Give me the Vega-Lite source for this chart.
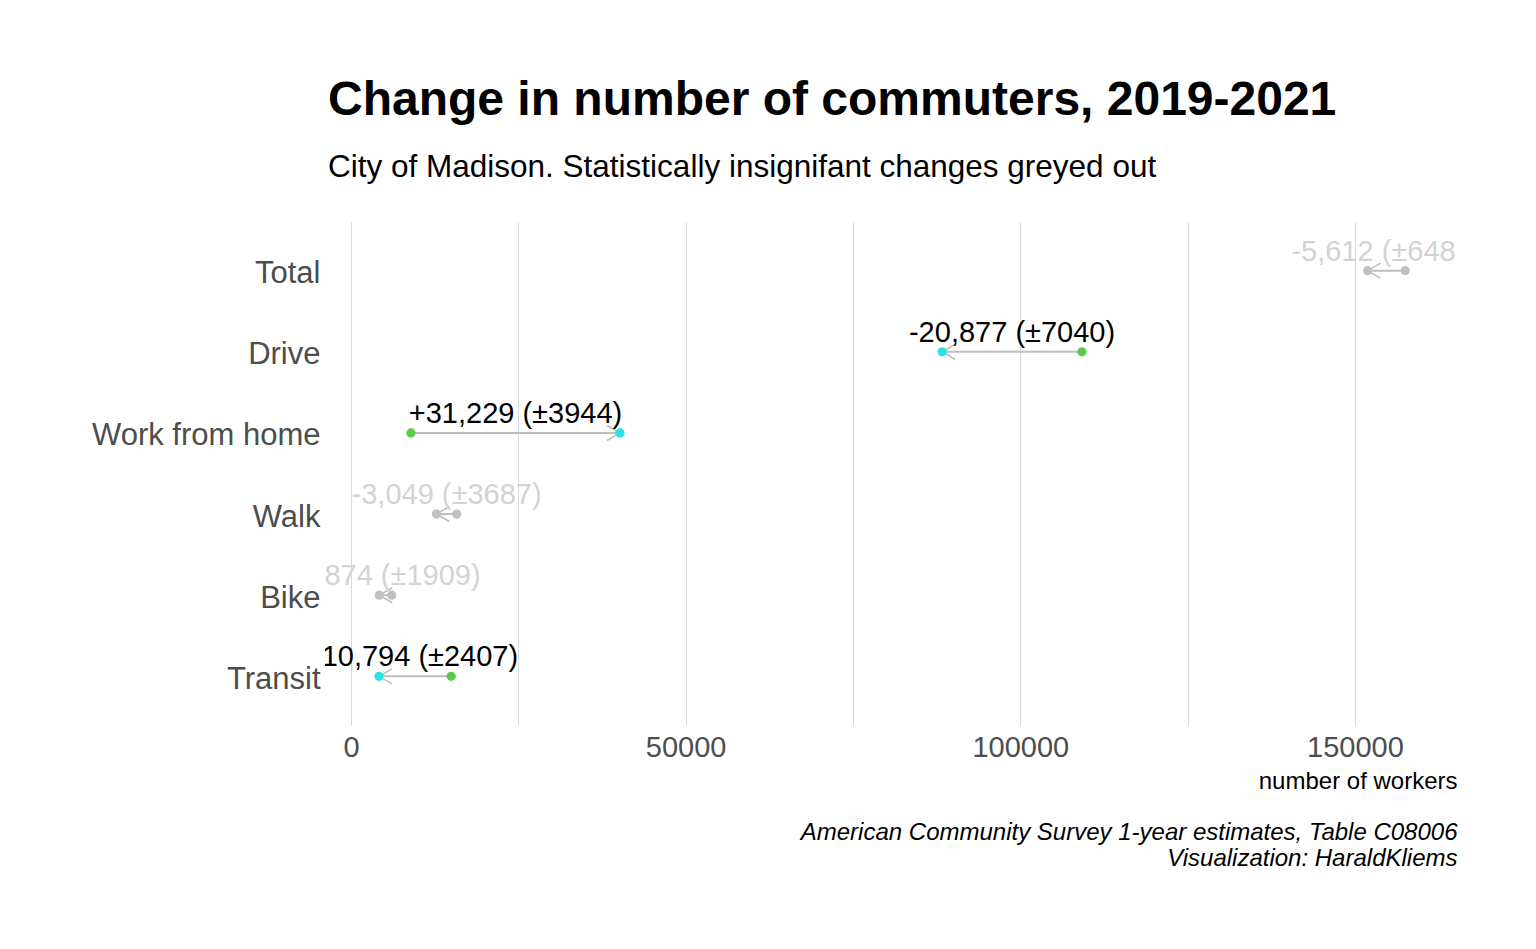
{
  "$schema": "https://vega.github.io/schema/vega-lite/v6.json",
  "width": 1132,
  "height": 503,
  "autosize": {"type": "none"},
  "padding": {"left": 325, "top": 222, "right": 79, "bottom": 224},
  "background": "white",
  "config": {
    "font": "Liberation Sans",
    "view": {"stroke": null},
    "title": {"font": "Liberation Sans", "subtitleFont": "Liberation Sans"}
  },
  "title": {
    "text": "Change in number of commuters, 2019-2021",
    "subtitle": "City of Madison. Statistically insignifant changes greyed out",
    "anchor": "start",
    "frame": "group",
    "dx": 3,
    "fontSize": 48,
    "fontWeight": "bold",
    "color": "#000000",
    "subtitleFontSize": 31.5,
    "subtitleColor": "#000000",
    "subtitlePadding": 27,
    "offset": 39
  },
  "data": {
    "values": [
      {"mode": "Total", "y2019": 157500, "y2021": 151888, "label": "-5,612 (±6481)", "sig": false},
      {"mode": "Drive", "y2019": 109200, "y2021": 88323, "label": "-20,877 (±7040)", "sig": true},
      {"mode": "Work from home", "y2019": 8960, "y2021": 40189, "label": "+31,229 (±3944)", "sig": true},
      {"mode": "Walk", "y2019": 15800, "y2021": 12751, "label": "-3,049 (±3687)", "sig": false},
      {"mode": "Bike", "y2019": 6100, "y2021": 4226, "label": "-1,874 (±1909)", "sig": false},
      {"mode": "Transit", "y2019": 14970, "y2021": 4176, "label": "-10,794 (±2407)", "sig": true}
    ]
  },
  "layer": [
    {
      "layer": [
        {
          "mark": {"type": "rule", "color": "#BEBEBE", "strokeWidth": 2},
          "encoding": {
            "x": {
              "field": "y2019", "type": "quantitative", "title": "number of workers",
              "scale": {"domain": [-3885, 165240], "nice": false, "zero": false},
              "axis": {
                "values": [0, 25000, 50000, 75000, 100000, 125000, 150000],
                "format": "d",
                "labelExpr": "datum.value % 50000 === 0 ? datum.label : ''",
                "grid": true, "gridColor": "#D9D9D9", "gridWidth": 1,
                "domain": false, "ticks": false, "tickSize": 0,
                "labelFontSize": 29, "labelColor": "#4D4D4D", "labelPadding": 8,
                "labelFlush": false, "labelOverlap": false,
                "titleFontSize": 24, "titleFontWeight": "normal", "titleColor": "#000000",
                "titleAnchor": "end", "titleAlign": "right", "titlePadding": 7
              }
            },
            "x2": {"field": "y2021"},
            "y": {
              "field": "mode", "type": "nominal", "title": null,
              "sort": ["Total", "Drive", "Work from home", "Walk", "Bike", "Transit"],
              "scale": {"type": "point", "padding": 0.6},
              "axis": {
                "domain": false, "ticks": false, "grid": false, "labelLimit": 0,
                "labelFontSize": 31, "labelColor": "#4D4D4D", "labelPadding": 5, "labelOffset": 3
              }
            }
          }
        },
        {
          "transform": [{"filter": "datum.y2021 < datum.y2019"}],
          "mark": {"type": "point", "shape": "M1.73,-1L0,0L1.73,1", "filled": false, "stroke": "#BEBEBE", "strokeWidth": 1.6, "size": 225, "opacity": 1},
          "encoding": {
            "x": {"field": "y2021", "type": "quantitative", "title": "number of workers"},
            "y": {"field": "mode", "type": "nominal", "title": null, "sort": ["Total", "Drive", "Work from home", "Walk", "Bike", "Transit"]}
          }
        },
        {
          "transform": [{"filter": "datum.y2021 > datum.y2019"}],
          "mark": {"type": "point", "shape": "M-1.73,-1L0,0L-1.73,1", "filled": false, "stroke": "#BEBEBE", "strokeWidth": 1.6, "size": 225, "opacity": 1},
          "encoding": {
            "x": {"field": "y2021", "type": "quantitative", "title": "number of workers"},
            "y": {"field": "mode", "type": "nominal", "title": null, "sort": ["Total", "Drive", "Work from home", "Walk", "Bike", "Transit"]}
          }
        },
        {
          "mark": {"type": "circle", "size": 85, "opacity": 1},
          "encoding": {
            "x": {"field": "y2019", "type": "quantitative", "title": "number of workers"},
            "y": {"field": "mode", "type": "nominal", "title": null, "sort": ["Total", "Drive", "Work from home", "Walk", "Bike", "Transit"]},
            "color": {"condition": {"test": "datum.sig", "value": "#5BCB48"}, "value": "#C0C0C0"}
          }
        },
        {
          "mark": {"type": "circle", "size": 85, "opacity": 1},
          "encoding": {
            "x": {"field": "y2021", "type": "quantitative", "title": "number of workers"},
            "y": {"field": "mode", "type": "nominal", "title": null, "sort": ["Total", "Drive", "Work from home", "Walk", "Bike", "Transit"]},
            "color": {"condition": {"test": "datum.sig", "value": "#27E2E6"}, "value": "#C0C0C0"}
          }
        },
        {
          "transform": [{"calculate": "(datum.y2019 + datum.y2021) / 2", "as": "mid"}],
          "mark": {"type": "text", "fontSize": 29, "baseline": "middle", "align": "center", "dy": -19, "clip": true},
          "encoding": {
            "x": {"field": "mid", "type": "quantitative", "title": "number of workers"},
            "y": {"field": "mode", "type": "nominal", "title": null, "sort": ["Total", "Drive", "Work from home", "Walk", "Bike", "Transit"]},
            "text": {"field": "label"},
            "color": {"condition": {"test": "datum.sig", "value": "#000000"}, "value": "#D3D3D3"}
          }
        }
      ]
    },
    {
      "mark": {"type": "point", "opacity": 0},
      "encoding": {
        "x": {
          "field": "y2019", "type": "quantitative",
          "scale": {"domain": [-3885, 165240], "nice": false, "zero": false},
          "axis": {
            "orient": "bottom",
            "title": ["American Community Survey 1-year estimates, Table C08006", "Visualization: HaraldKliems"],
            "labels": false, "ticks": false, "tickSize": 0, "domain": false, "grid": false,
            "offset": 0,
            "titleFontSize": 24, "titleFontStyle": "italic", "titleFontWeight": "normal", "titleColor": "#000000",
            "titleAnchor": "end", "titleAlign": "right", "titlePadding": 95, "titleLineHeight": 26
          }
        }
      }
    }
  ],
  "resolve": {"scale": {"x": "independent"}}
}
